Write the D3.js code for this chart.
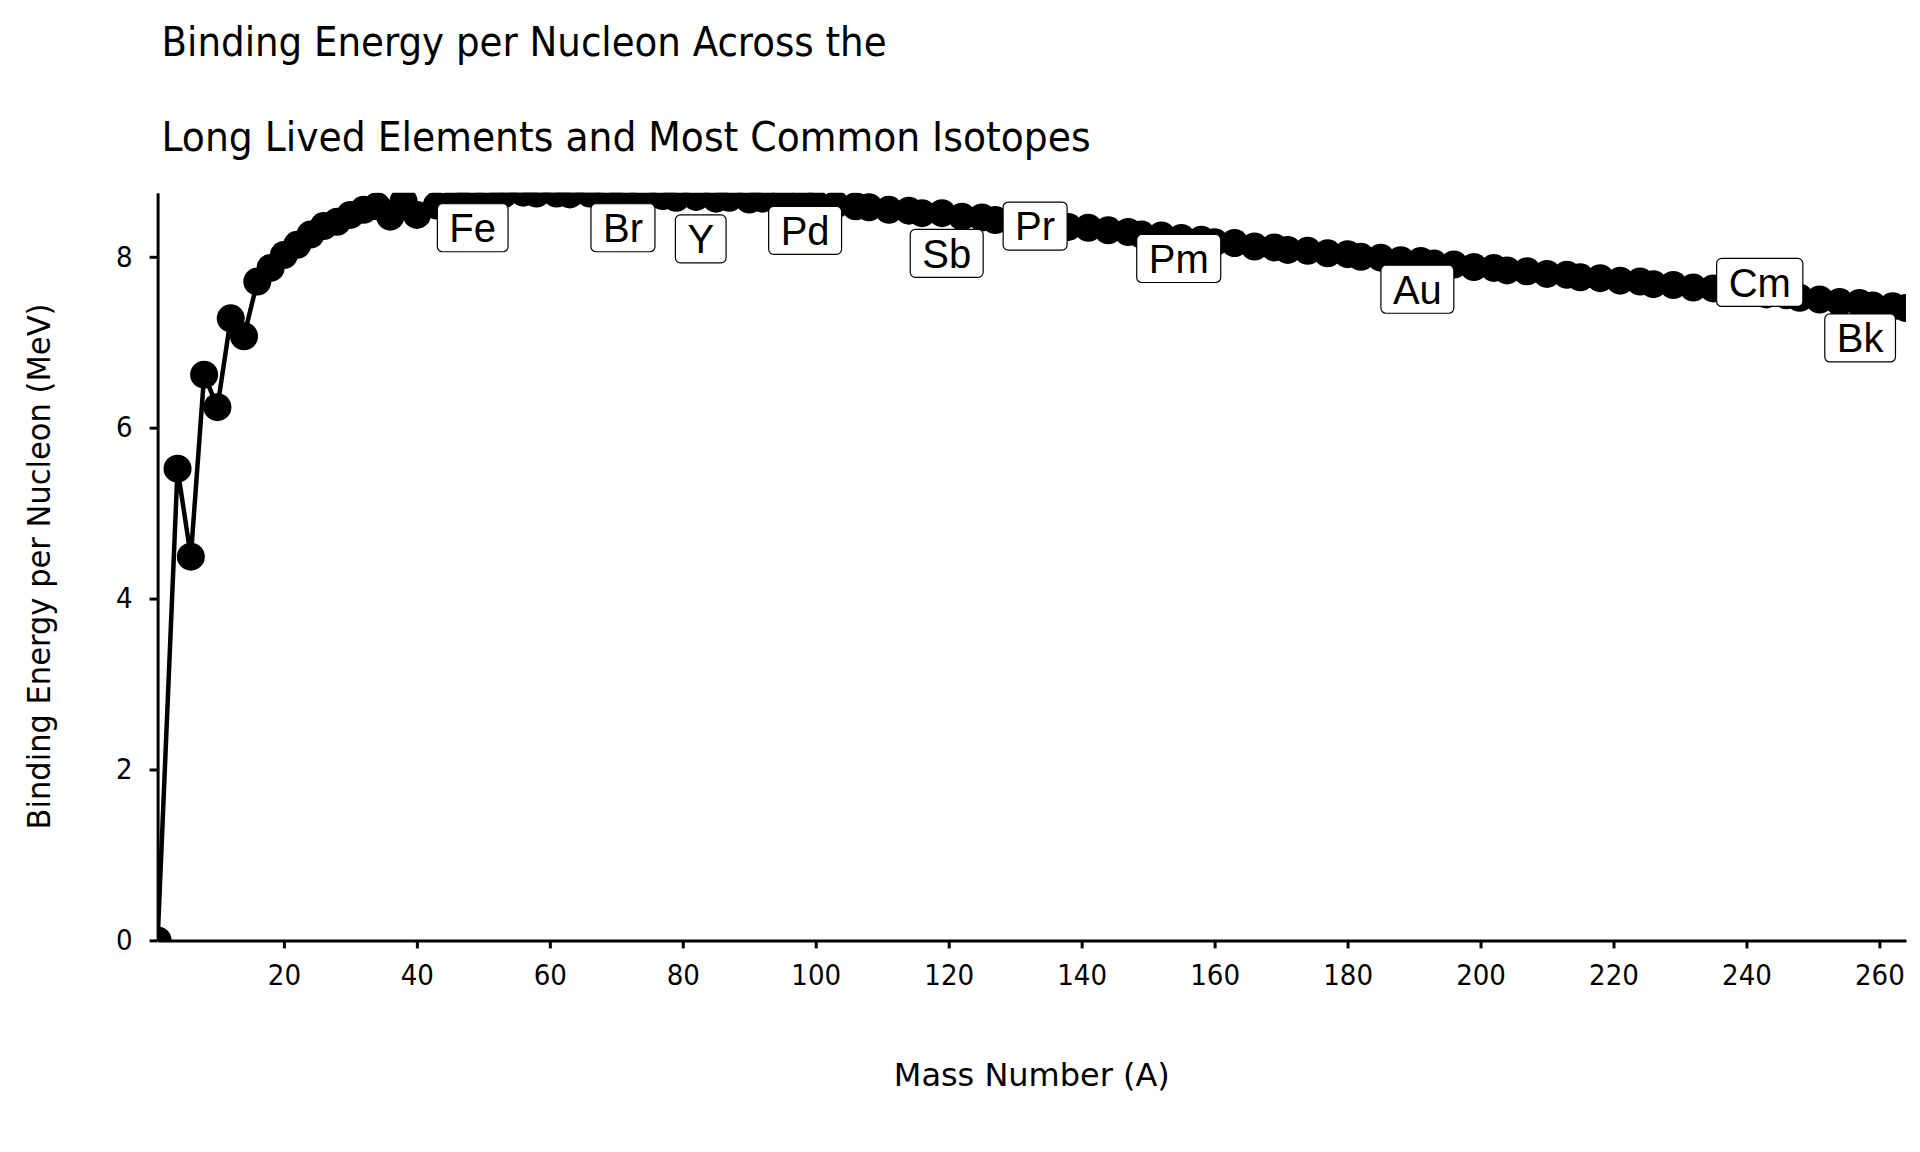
<!DOCTYPE html>
<html>
<head>
<meta charset="utf-8">
<script src="https://cdn.jsdelivr.net/npm/d3@7"></script>
<style>
  body { margin: 0; background: #fff; }
  .hand { font-family: "DejaVu Sans Condensed", "Liberation Sans Narrow", sans-serif; fill: #000; }
  .lbl { font-family: "Liberation Sans", Arial, sans-serif; }
</style>
</head>
<body>
<div id="my_dataviz"></div>
<script>

// one entry per element (Z = 1..103)
var symbols = ["H","He","Li","Be","B","C","N","O","F","Ne","Na","Mg","Al","Si","P","S","Cl","Ar","K","Ca",
  "Sc","Ti","V","Cr","Mn","Fe","Co","Ni","Cu","Zn","Ga","Ge","As","Se","Br","Kr",
  "Rb","Sr","Y","Zr","Nb","Mo","Tc","Ru","Rh","Pd","Ag","Cd","In","Sn","Sb","Te","I","Xe",
  "Cs","Ba","La","Ce","Pr","Nd","Pm","Sm","Eu","Gd","Tb","Dy","Ho","Er","Tm","Yb","Lu",
  "Hf","Ta","W","Re","Os","Ir","Pt","Au","Hg","Tl","Pb","Bi","Po","At","Rn",
  "Fr","Ra","Ac","Th","Pa","U","Np","Pu","Am","Cm","Bk","Cf","Es","Fm","Md","No","Lr"];

var massNumbers = [1,4,6,8,10,12,14,16,18,20,22,24,26,28,30,32,34,36,38,40,
  43,46,48,51,53,56,58,61,63,66,
  69,71,74,77,79,82,85,87,90,92,
  95,98,100,103,106,108,111,114,116,119,
  122,125,127,130,133,136,138,141,144,147,
  149,152,155,158,160,163,166,169,171,174,
  177,180,182,185,188,191,193,196,199,202,
  204,207,210,213,215,218,221,224,226,229,
  232,235,237,240,243,246,248,251,254,257,
  259,262,264];

// MeV per nucleon
var bindingEnergies = [0,5.52,4.49,6.62,6.24,7.28,7.07,7.71,7.87,8.02,8.14,8.26,8.36,8.41,8.49,8.55,8.59,8.47,8.65,8.49,
  8.60,8.68,8.70,8.71,8.73,8.75,8.74,8.74,8.73,8.74,
  8.71,8.72,8.70,8.71,8.69,8.70,8.68,8.69,8.67,8.68,
  8.65,8.65,8.62,8.61,8.59,8.58,8.55,8.54,8.51,8.51,
  8.47,8.46,8.43,8.42,8.39,8.38,8.35,8.34,8.31,8.29,
  8.26,8.25,8.22,8.20,8.17,8.16,8.12,8.11,8.08,8.07,
  8.04,8.03,8.00,7.99,7.96,7.95,7.92,7.91,7.88,7.87,
  7.84,7.83,7.80,7.79,7.76,7.75,7.72,7.71,7.68,7.67,
  7.64,7.63,7.60,7.59,7.56,7.55,7.52,7.50,7.47,7.46,
  7.43,7.42,7.40];

// labelled elements and where their boxes sit (data units)
var labelSymbols = ["Fe","Br","Y","Pd","Sb","Pr","Pm","Au","Cm","Bk"];
var labelX = [48.4, 71.0, 82.7, 98.4, 119.7, 133.0, 154.6, 190.5, 242.0, 257.1];
var labelY = [8.34, 8.34, 8.21, 8.31, 8.04, 8.36, 7.98, 7.62, 7.70, 7.05];

var xTicks = [20,40,60,80,100,120,140,160,180,200,220,240,260];
var yTicks = [0,2,4,6,8];

var titleLines = ["Binding Energy per Nucleon Across the", "Long Lived Elements and Most Common Isotopes"];

var data = symbols.map(function(s, i) {
  return {symbol: s, A: massNumbers[i], E: bindingEnergies[i]};
}).sort(function(a, b) { return a.A - b.A; });

var margin = {top: 192.7, right: 14, bottom: 211.6, left: 157.6};
var width = 1920 - margin.left - margin.right;
var height = 1152 - margin.top - margin.bottom;

var svg = d3.select("#my_dataviz")
  .append("svg")
  .attr("width", 1920)
  .attr("height", 1152);

var g = svg.append("g")
  .attr("transform", "translate(" + margin.left + "," + margin.top + ")");

var x = d3.scaleLinear()
  .domain(d3.extent(data, function(d) { return d.A; }))
  .range([0, width]);

var y = d3.scaleLinear()
  .domain([0, d3.max(data, function(d) { return d.E; })])
  .range([height, 0]);

svg.append("defs").append("clipPath")
  .attr("id", "panel")
  .append("rect")
  .attr("width", width)
  .attr("height", height);

var plot = g.append("g").attr("clip-path", "url(#panel)");

var line = d3.line()
  .x(function(d) { return x(d.A); })
  .y(function(d) { return y(d.E); });

plot.append("path")
  .datum(data)
  .attr("fill", "none")
  .attr("stroke", "#000")
  .attr("stroke-width", 4.5)
  .attr("stroke-linejoin", "round")
  .attr("d", line);

plot.selectAll("circle")
  .data(data)
  .enter().append("circle")
  .attr("cx", function(d) { return x(d.A); })
  .attr("cy", function(d) { return y(d.E); })
  .attr("r", 14)
  .attr("fill", "#000");

// axes
var xAxis = g.append("g")
  .attr("transform", "translate(0," + height + ")")
  .call(d3.axisBottom(x).tickValues(xTicks).tickSize(8).tickPadding(16).tickSizeOuter(0));

var yAxis = g.append("g")
  .call(d3.axisLeft(y).tickValues(yTicks).tickSize(8).tickPadding(17).tickSizeOuter(0));

[xAxis, yAxis].forEach(function(a) {
  a.select(".domain").attr("stroke", "#000").attr("stroke-width", 3);
  a.selectAll(".tick line").attr("stroke", "#000").attr("stroke-width", 3);
  a.selectAll(".tick text")
    .attr("class", "hand")
    .attr("font-size", 29)
    .attr("fill", "#000");
});

// labels
var labels = g.selectAll(".elLabel")
  .data(labelSymbols)
  .enter().append("g")
  .attr("class", "elLabel")
  .attr("transform", function(d, i) {
    return "translate(" + x(labelX[i]) + "," + y(labelY[i]) + ")";
  });

labels.append("text")
  .attr("class", "lbl")
  .attr("font-size", 40)
  .attr("text-anchor", "middle")
  .attr("y", 14.3)
  .attr("fill", "#000")
  .text(function(d) { return d; });

labels.each(function() {
  var grp = d3.select(this);
  var w = grp.select("text").node().getComputedTextLength() + 24;
  grp.insert("rect", "text")
    .attr("x", -w / 2)
    .attr("y", -24)
    .attr("width", w)
    .attr("height", 48)
    .attr("rx", 5)
    .attr("fill", "#fff")
    .attr("stroke", "#000")
    .attr("stroke-width", 1.2);
});

// titles
svg.append("text")
  .attr("class", "hand")
  .attr("x", 161.6)
  .attr("y", 56)
  .attr("font-size", 40)
  .attr("textLength", 725)
  .attr("lengthAdjust", "spacingAndGlyphs")
  .text(titleLines[0]);

svg.append("text")
  .attr("class", "hand")
  .attr("x", 161.6)
  .attr("y", 151)
  .attr("font-size", 40)
  .attr("textLength", 929)
  .attr("lengthAdjust", "spacingAndGlyphs")
  .text(titleLines[1]);

svg.append("text")
  .attr("class", "hand")
  .attr("x", margin.left + width / 2)
  .attr("y", 1086)
  .attr("font-size", 32)
  .attr("text-anchor", "middle")
  .attr("textLength", 276)
  .attr("lengthAdjust", "spacingAndGlyphs")
  .text("Mass Number (A)");

svg.append("text")
  .attr("class", "hand")
  .attr("transform", "translate(50," + (margin.top + height / 2) + ") rotate(-90)")
  .attr("font-size", 32)
  .attr("text-anchor", "middle")
  .attr("textLength", 526)
  .attr("lengthAdjust", "spacingAndGlyphs")
  .text("Binding Energy per Nucleon (MeV)");

</script>
</body>
</html>
